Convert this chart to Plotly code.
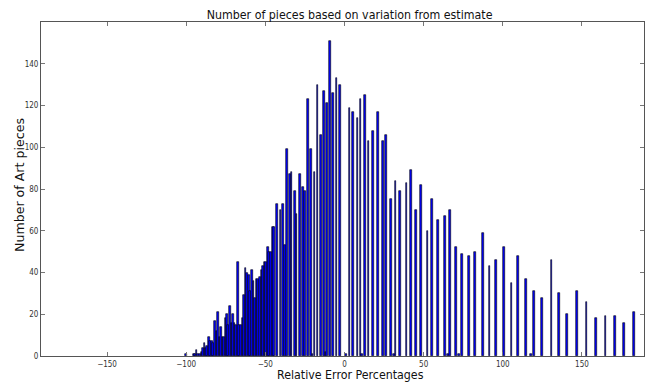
import plotly.graph_objects as go

# Bin centres (relative error, %) and counts
dense_x = [-100, -95.2, -94.4, -93.5, -92.5, -91.5, -90.4, -89.3, -88.5, -87.6, -86.8, -85.8,
           -84.9, -83.9, -83.0, -81.8, -80.9, -79.9, -79.0, -78.2, -77.1, -76.3, -75.2,
           -74.4, -73.6, -72.5, -71.4, -70.4, -69.4, -68.3, -67.3, -66.4, -65.6, -64.5,
           -63.5, -62.5, -61.5, -60.5, -59.5, -58.5, -57.5, -56.5, -55.5, -54.5, -53.5,
           -52.5, -51.5, -50.5, -49.5, -48.5, -47.5, -46.5, -45.3, -44.3]
dense_y = [1, 1, 1, 3, 1, 1, 2, 4, 6, 4, 5, 9,
           7, 7, 6, 17, 12, 21, 9, 14, 9, 9, 18,
           20, 15, 24, 16, 20, 16, 15, 45, 15, 15, 18,
           29, 42, 40, 39, 31, 41, 36, 28, 37, 37, 38,
           41, 43, 45, 45, 52, 50, 50, 62, 62]

mid_x = [-42.4, -40.4, -38.9, -37.4, -36.1, -34.2, -33.4, -31.3, -30.3, -28.2, -26.3, -25.0,
         -22.9, -21.0, -20.2, -18.9, -17.0, -14.9, -13.0, -12.0, -10.9, -9.0, -7.1, -5.0, -3.0]
mid_y = [73, 70, 73, 53, 99, 87, 88, 79, 68, 87, 81, 79,
         123, 99, 1, 88, 130, 106, 127, 2, 121, 151, 126, 133, 130]

pos_x = [1.1, 3.2, 5.3, 8.2, 10.1, 10.9, 13.0, 15.1, 18.0, 21.2, 24.2, 26.3, 29.2, 31.5, 32.2,
         35.1, 39.1, 42.0, 45.2, 48.3, 52.5, 55.5, 59.1, 63.3, 65.4, 66.6, 70.4, 72.5,
         74.4, 78.6, 82.6, 87.5, 91.6, 95.6, 100.7, 105.5, 109.7, 114.6, 117.7, 119.6,
         124.6, 130.7, 135.7, 140.6, 146.7, 152.8, 158.7, 164.8, 170.9, 176.7, 182.8]
pos_y = [1, 119, 117, 114, 123, 1, 125, 103, 108, 117, 103, 106, 75, 1, 84,
         79, 83, 89, 70, 82, 60, 75, 65, 67, 1, 70, 52, 1,
         49, 48, 50, 59, 43, 46, 52, 35, 48, 37, 1, 31,
         28, 46, 30, 20, 31, 26, 18, 19, 19, 16, 21]

x_vals = dense_x + mid_x + pos_x
y_vals = dense_y + mid_y + pos_y

x_ticks = [-150, -100, -50, 0, 50, 100, 150]
y_ticks = [0, 20, 40, 60, 80, 100, 120, 140]

FONT = "DejaVu Sans Condensed, Liberation Sans Narrow, DejaVu Sans, sans-serif"

fig = go.Figure(go.Bar(
    x=x_vals, y=y_vals, width=1.1,
    marker=dict(color="#0000ff", line=dict(color="#000000", width=0.6)),
))

axis_common = dict(
    showline=True, linecolor="#555555", linewidth=1, mirror="allticks",
    ticks="inside", ticklen=4, tickcolor="#777777", showgrid=False, zeroline=False,
    tickfont=dict(family=FONT, size=8, color="#333333"),
)

fig.update_layout(
    width=645, height=385,
    margin=dict(l=41, r=1, t=22, b=29),
    plot_bgcolor="white", paper_bgcolor="white",
    showlegend=False, bargap=0,
    title=dict(text="Number of pieces based on variation from estimate",
               x=0.542, xanchor="center", y=0.962, yanchor="middle",
               font=dict(family=FONT, size=12.3, color="#111111")),
    xaxis=dict(range=[-191.7, 189.2], tickvals=x_ticks,
               ticktext=["\u2212150", "\u2212100", "\u221250", "0", "50", "100", "150"],
               **axis_common),
    yaxis=dict(range=[0, 160], tickvals=y_ticks, **axis_common),
    annotations=[
        dict(text="Relative Error Percentages", xref="paper", yref="paper",
             x=(350 - 41) / 603, y=-(375 - 356) / 334, xanchor="center", yanchor="middle",
             showarrow=False, font=dict(family=FONT, size=12.3, color="#111111")),
        dict(text="Number of Art pieces", xref="paper", yref="paper",
             x=-(41 - 19) / 603, y=(356 - 185) / 334, xanchor="center", yanchor="middle",
             textangle=-90, showarrow=False,
             font=dict(family="DejaVu Sans, sans-serif", size=12.6, color="#111111")),
    ],
)

fig.write_html("out.html")
